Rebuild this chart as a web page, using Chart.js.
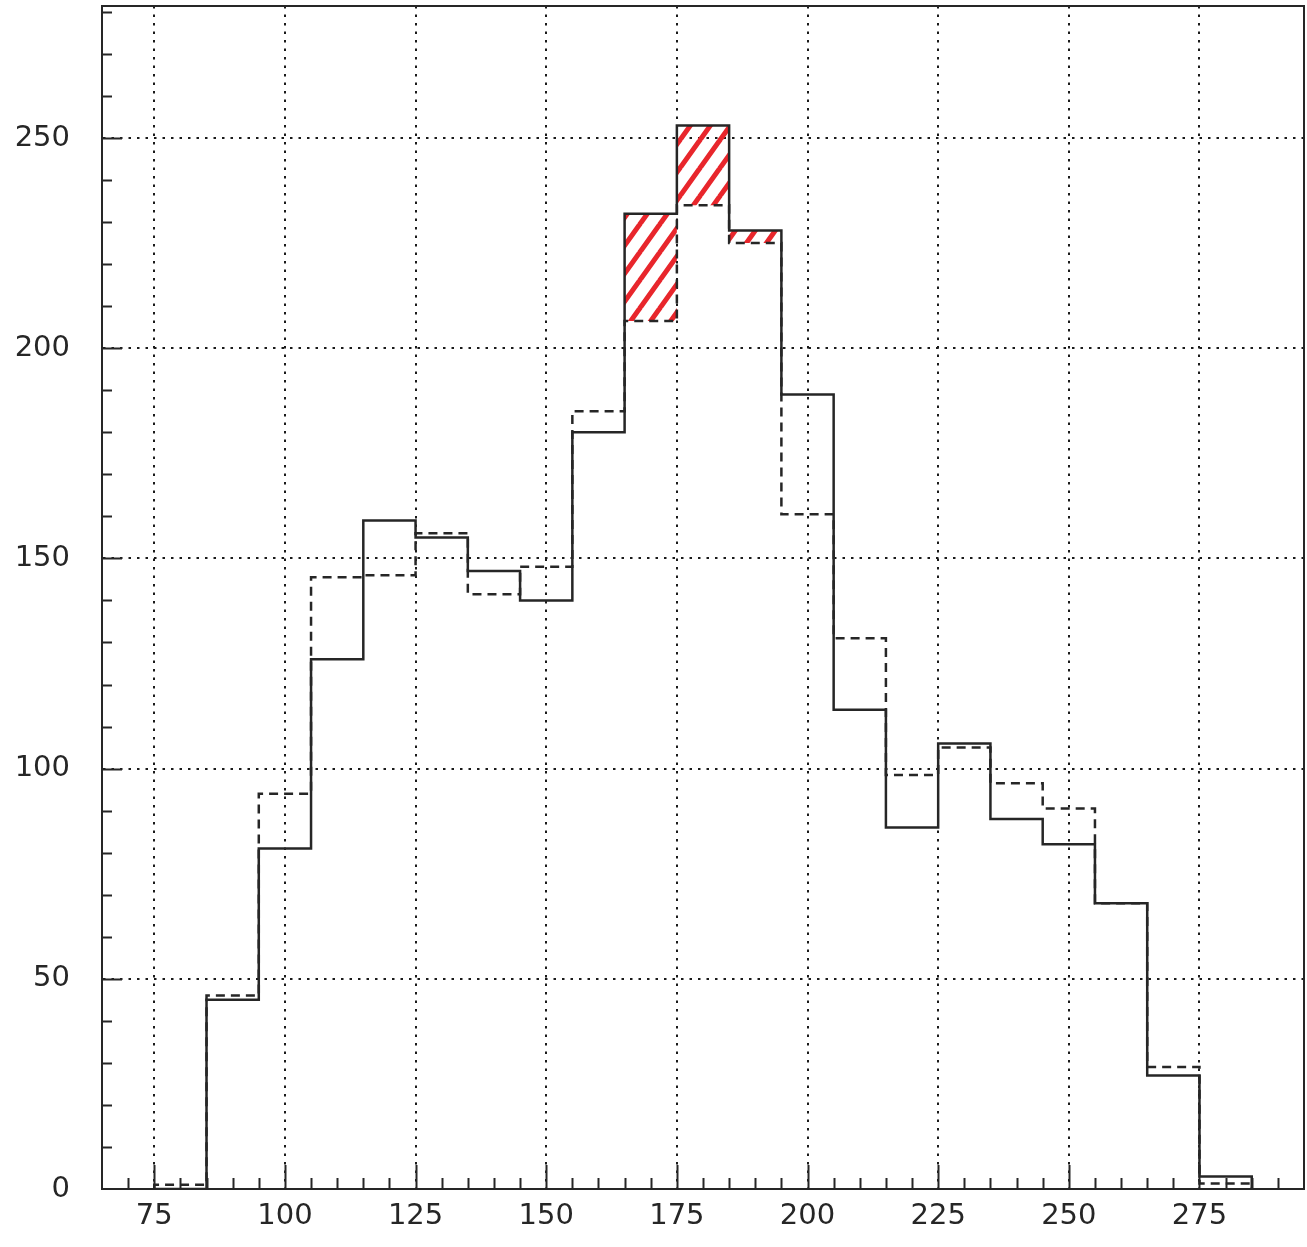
<!DOCTYPE html>
<html>
<head>
<meta charset="utf-8">
<script src="https://cdn.jsdelivr.net/npm/chart.js@4.4.1/dist/chart.umd.min.js"></script>
<style>
  html, body { margin: 0; padding: 0; background: #fff; }
  #wrap { width: 1307px; height: 1247px; }
</style>
</head>
<body>
<div id="wrap"><canvas id="histo" width="1307" height="1247"></canvas></div>
<script>
// bin lower edges (bin width 10)
const binLow = [75, 85, 95, 105, 115, 125, 135, 145, 155, 165, 175, 185, 195, 205, 215, 225, 235, 245, 255, 265, 275];
const binWidth = 10;
// solid histogram
const solidCounts = [0, 45, 81, 126, 159, 155, 147, 140, 180, 232, 253, 228, 189, 114, 86, 106, 88, 82, 68, 27, 3];
// dashed histogram
const dashedCounts = [1, 46, 94, 145.5, 146, 156, 141.5, 148, 185, 206.5, 234, 225, 160.5, 131, 98.5, 105, 96.5, 90.5, 68, 29, 1.3];
// bins where the excess (solid over dashed) is hatched in red
const hatchedBins = [165, 175, 185];

const xTickValues = [75, 100, 125, 150, 175, 200, 225, 250, 275];
const yTickValues = [0, 50, 100, 150, 200, 250];

const INK = '#262626';
const FONT = { family: "'DejaVu Sans', sans-serif", size: 29 };

function stepPoints(counts) {
  const last = binLow.length - 1;
  const pts = [{ x: binLow[0], y: 0 }];
  binLow.forEach((lo, i) => pts.push({ x: lo, y: counts[i] }));
  pts.push({ x: binLow[last] + binWidth, y: counts[last] });
  pts.push({ x: binLow[last] + binWidth, y: 0 });
  return pts;
}

function hatchPoints(counts) {
  const idx = hatchedBins.map(lo => binLow.indexOf(lo));
  const pts = idx.map(i => ({ x: binLow[i], y: counts[i] }));
  const end = idx[idx.length - 1];
  pts.push({ x: binLow[end] + binWidth, y: counts[end] });
  return pts;
}

function makeHatch() {
  const c = document.createElement('canvas');
  const w = 20, h = 28;
  c.width = w; c.height = h;
  const g = c.getContext('2d');
  g.strokeStyle = '#e8262c';
  g.lineWidth = 5;
  g.lineCap = 'round';
  for (let k = -1; k <= 1; k++) {
    g.beginPath();
    g.moveTo(k * w, h);
    g.lineTo(k * w + w, 0);
    g.stroke();
  }
  return g.createPattern(c, 'repeat');
}

// pin the plot box: no automatic label padding
function pinScale(s, size) {
  if (s.isHorizontal()) s.height = size; else s.width = size;
  s.paddingTop = 0; s.paddingBottom = 0; s.paddingLeft = 0; s.paddingRight = 0;
}

// inner tick marks + frame, like the old HBOOK style
const frameTicks = {
  id: 'frameTicks',
  afterDraw(chart) {
    const { ctx, chartArea: a, scales: { x, y } } = chart;
    ctx.save();
    ctx.strokeStyle = INK;
    ctx.lineWidth = 2;
    ctx.beginPath();
    for (let v = 70; v < x.max; v += 5) {
      const px = Math.round(x.getPixelForValue(v)) + 0.5;
      const len = v % 25 === 0 ? 24 : 11;
      ctx.moveTo(px, a.bottom);
      ctx.lineTo(px, a.bottom - len);
    }
    for (let v = 10; v < y.max; v += 10) {
      const py = Math.round(y.getPixelForValue(v)) + 0.5;
      const len = v % 50 === 0 ? 20 : 10;
      ctx.moveTo(a.left, py);
      ctx.lineTo(a.left + len, py);
    }
    ctx.stroke();
    ctx.beginPath();
    ctx.moveTo(a.left, a.top);
    ctx.lineTo(a.right, a.top);
    ctx.lineTo(a.right, a.bottom);
    ctx.stroke();
    ctx.restore();
  }
};

new Chart(document.getElementById('histo'), {
  type: 'line',
  data: {
    datasets: [
      { label: 'solid', data: stepPoints(solidCounts), stepped: true, borderColor: INK, borderWidth: 2.5, pointRadius: 0, fill: false, order: 1 },
      { label: 'dashed', data: stepPoints(dashedCounts), stepped: true, borderColor: INK, borderWidth: 2.5, borderDash: [9, 6], pointRadius: 0, fill: false, order: 1 },
      { label: 'excess', data: hatchPoints(solidCounts), stepped: true, borderWidth: 0, pointRadius: 0, backgroundColor: makeHatch(), fill: '+1', order: 2 },
      { label: 'excessBase', data: hatchPoints(dashedCounts), stepped: true, borderWidth: 0, pointRadius: 0, fill: false, order: 2 }
    ]
  },
  options: {
    responsive: false,
    animation: false,
    layout: { autoPadding: false, padding: { top: 6, right: 3, left: 0, bottom: 0 } },
    plugins: { legend: { display: false }, tooltip: { enabled: false } },
    scales: {
      x: {
        type: 'linear', min: 65, max: 295,
        afterBuildTicks: axis => { axis.ticks = xTickValues.map(v => ({ value: v })); },
        afterFit: s => pinScale(s, 58),
        ticks: { color: INK, font: FONT, padding: 10, maxRotation: 0, autoSkip: false },
        grid: { color: '#1a1a1a', lineWidth: 2, drawTicks: false },
        border: { color: INK, width: 2, dash: [2.5, 6] }
      },
      y: {
        type: 'linear', min: 0, max: 281.4,
        afterBuildTicks: axis => { axis.ticks = yTickValues.map(v => ({ value: v })); },
        afterFit: s => pinScale(s, 102),
        ticks: { color: INK, font: FONT, padding: 32, autoSkip: false },
        grid: { color: '#1a1a1a', lineWidth: 2, drawTicks: false },
        border: { color: INK, width: 2, dash: [2.5, 6] }
      }
    }
  },
  plugins: [frameTicks]
});
</script>
</body>
</html>
